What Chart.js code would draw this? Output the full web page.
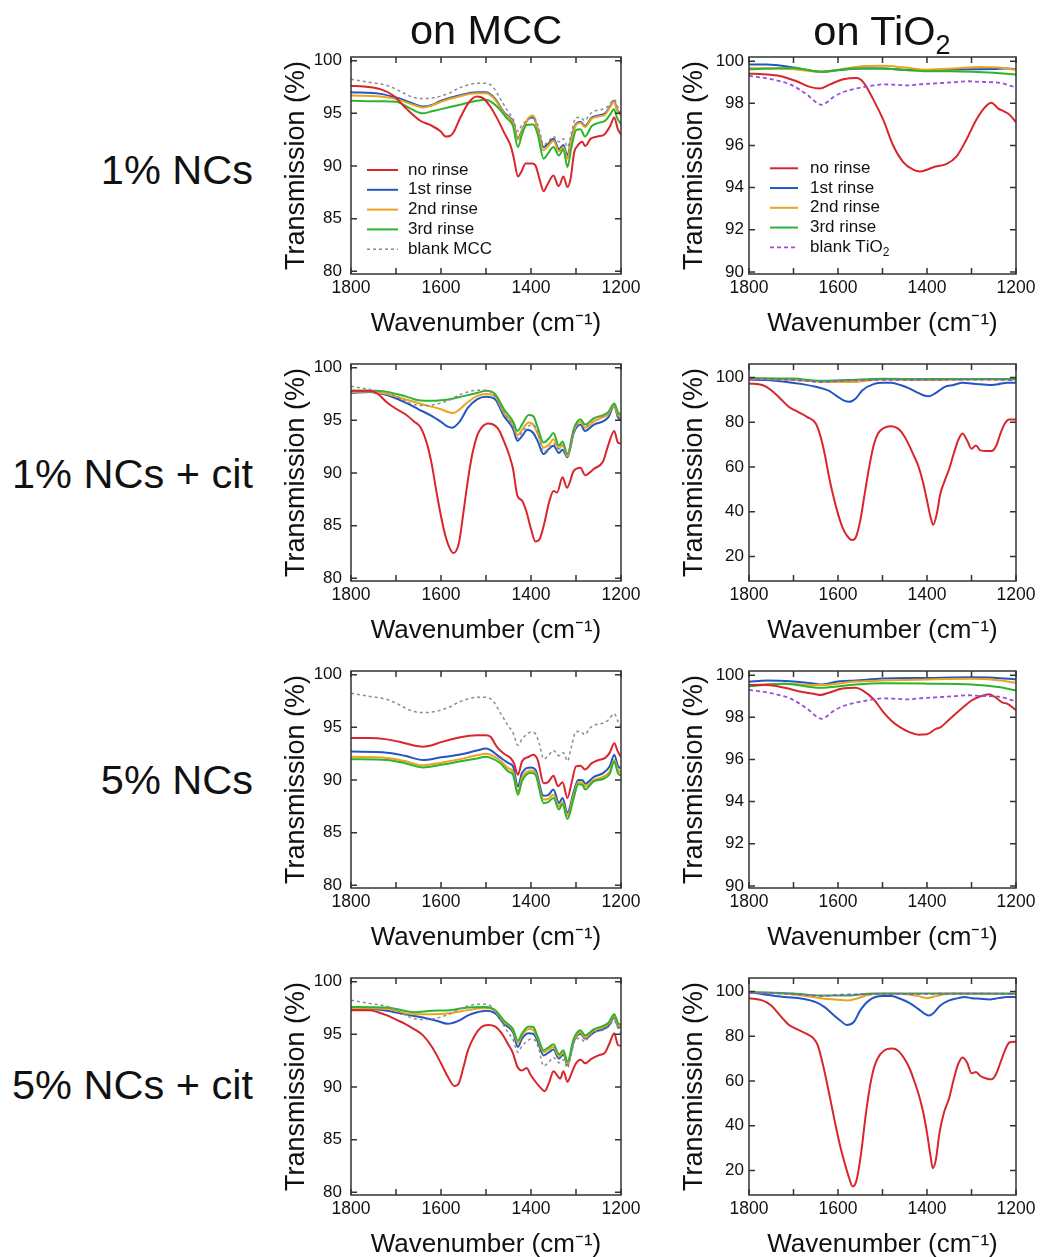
<!DOCTYPE html>
<html>
<head>
<meta charset="utf-8">
<title>FTIR transmission spectra</title>
<script src="https://cdn.jsdelivr.net/npm/chart.js@4.4.1/dist/chart.umd.min.js"></script>
<style>
  html, body { margin: 0; padding: 0; background: #fff; }
  body { position: relative; width: 1040px; height: 1257px; overflow: hidden;
         font-family: "Liberation Sans", Arial, sans-serif; color: #111; }
  canvas { position: absolute; }
  .colTitle { position: absolute; font-size: 41.5px; line-height: 40px; white-space: nowrap; transform: translateX(-50%); z-index: 2; }
  .colTitle sub { font-size: 27px; vertical-align: -9px; line-height: 0; }
  .rowLabel { position: absolute; font-size: 41.5px; line-height: 40px; white-space: nowrap; text-align: right; right: 787px; z-index: 2; }
</style>
</head>
<body>
<div class="colTitle" style="left:486px; top:10px;">on MCC</div>
<div class="colTitle" style="left:882px; top:11px;">on TiO<sub>2</sub></div>
<div class="rowLabel" style="top:150px;">1% NCs</div>
<div class="rowLabel" style="top:454px;">1% NCs + cit</div>
<div class="rowLabel" style="top:760px;">5% NCs</div>
<div class="rowLabel" style="top:1065px;">5% NCs + cit</div>

<canvas id="pA"></canvas><canvas id="pB"></canvas>
<canvas id="pC"></canvas><canvas id="pD"></canvas>
<canvas id="pE"></canvas><canvas id="pF"></canvas>
<canvas id="pG"></canvas><canvas id="pH"></canvas>

<script>
// ---------- axis ticks ----------
const xTicks = [1800, 1700, 1600, 1500, 1400, 1300, 1200];
const xTickLabels = [1800, 1600, 1400, 1200];
const yTicksMCC = [80, 85, 90, 95, 100];
const yTicksFine = [90, 92, 94, 96, 98, 100];
const yTicksCoarse = [20, 40, 60, 80, 100];

const seriesLabelsMCC = ['no rinse', '1st rinse', '2nd rinse', '3rd rinse', 'blank MCC'];
const seriesLabelsTiO2 = ['no rinse', '1st rinse', '2nd rinse', '3rd rinse', 'blank TiO\u2082'];

// ---------- blanks: [wavenumber cm-1, transmission %] ----------
const blankMCC = [[1800,98.25],[1780,98.1],[1760,97.95],[1720,97.65],[1700,97.3],[1680,96.85],[1660,96.5],[1640,96.4],[1620,96.45],[1600,96.65],[1580,96.95],[1560,97.4],[1540,97.7],[1520,97.85],[1500,97.85],[1490,97.7],[1480,97.25],[1470,96.5],[1460,95.8],[1450,95.1],[1440,94.5],[1429,93.3],[1420,93.9],[1410,94.3],[1400,94.55],[1390,94.4],[1382,93.5],[1372,92.0],[1362,92.3],[1350,92.8],[1338,92.3],[1328,92.6],[1319,91.8],[1310,93.2],[1300,94.6],[1290,94.6],[1280,94.3],[1270,94.9],[1260,95.2],[1240,95.4],[1228,95.7],[1215,96.3],[1207,95.6],[1200,95.1]];
const blankTiO2 = [[1800,99.3],[1770,99.22],[1740,99.1],[1710,98.92],[1690,98.7],[1670,98.42],[1655,98.15],[1645,97.98],[1636,97.93],[1625,98.05],[1610,98.3],[1590,98.52],[1570,98.65],[1540,98.78],[1520,98.85],[1500,98.9],[1470,98.88],[1440,98.85],[1420,98.9],[1380,98.95],[1340,99.0],[1310,99.05],[1280,99.02],[1250,99.0],[1230,98.95],[1215,98.85],[1200,98.75]];

// ---------- 1% NCs on MCC ----------
const mcc1NoRinse = [[1800,97.6],[1772,97.55],[1735,97.3],[1706,96.7],[1676,95.4],[1646,94.3],[1624,93.9],[1601,93.3],[1590,92.8],[1580,92.85],[1572,93.2],[1557,94.6],[1538,96.05],[1520,96.6],[1505,96.4],[1490,95.6],[1475,94.5],[1460,93.2],[1445,91.9],[1438,90.7],[1429,89.0],[1422,89.4],[1412,90.25],[1397,90.25],[1390,90.05],[1380,88.6],[1372,87.6],[1364,88.2],[1350,89.1],[1341,88.2],[1338,88.1],[1328,89.0],[1319,88.0],[1312,88.8],[1304,91.3],[1297,91.9],[1286,92.3],[1280,91.9],[1267,92.6],[1252,92.8],[1237,93.0],[1224,93.8],[1215,94.6],[1207,93.5],[1200,93.0]];
const mcc1Rinse1 = [[1800,97.0],[1735,96.85],[1700,96.5],[1660,95.9],[1640,95.65],[1620,95.8],[1600,96.2],[1560,96.7],[1520,97.0],[1500,97.0],[1480,96.4],[1460,95.1],[1440,94.2],[1429,92.6],[1420,93.4],[1405,94.5],[1395,94.6],[1385,93.5],[1372,91.8],[1362,92.1],[1350,92.6],[1338,91.6],[1328,92.0],[1319,91.0],[1310,92.7],[1300,94.0],[1290,94.2],[1280,93.8],[1265,94.6],[1250,94.8],[1235,95.0],[1224,95.7],[1216,96.2],[1208,95.3],[1200,94.9]];
const mcc1Rinse2 = [[1800,96.7],[1735,96.6],[1700,96.35],[1660,95.8],[1640,95.55],[1620,95.75],[1600,96.1],[1560,96.6],[1520,96.9],[1500,96.9],[1480,96.3],[1460,95.0],[1440,94.1],[1429,92.5],[1420,93.3],[1405,94.6],[1395,94.8],[1385,93.5],[1372,91.5],[1362,91.9],[1350,92.4],[1338,91.4],[1328,91.8],[1319,90.7],[1310,92.5],[1300,93.9],[1290,94.1],[1280,93.7],[1265,94.5],[1250,94.7],[1235,94.9],[1224,95.6],[1216,96.1],[1208,95.2],[1200,94.8]];
const mcc1Rinse3 = [[1800,96.2],[1740,96.15],[1700,96.1],[1670,95.5],[1640,95.0],[1620,95.2],[1600,95.4],[1560,95.8],[1520,96.2],[1500,96.3],[1485,96.0],[1470,95.4],[1455,94.6],[1440,93.8],[1429,91.8],[1420,93.0],[1410,93.9],[1395,93.95],[1385,93.0],[1372,90.7],[1362,91.2],[1350,91.8],[1338,91.0],[1328,91.6],[1319,89.9],[1310,91.8],[1300,93.4],[1290,93.5],[1280,92.8],[1265,93.8],[1250,94.1],[1235,94.3],[1224,94.9],[1216,95.4],[1208,94.5],[1200,94.0]];

// ---------- 1% NCs on TiO2 ----------
const tio1NoRinse = [[1800,99.41],[1768,99.38],[1731,99.3],[1693,99.05],[1663,98.78],[1641,98.7],[1618,98.9],[1588,99.14],[1558,99.2],[1543,99.0],[1521,98.2],[1498,97.2],[1476,96.0],[1453,95.2],[1431,94.85],[1416,94.76],[1400,94.85],[1386,94.97],[1356,95.13],[1333,95.5],[1311,96.3],[1288,97.27],[1266,97.9],[1255,98.03],[1240,97.75],[1225,97.6],[1213,97.43],[1200,97.1]];
const tio1Rinse1 = [[1800,99.84],[1760,99.84],[1700,99.7],[1660,99.55],[1640,99.5],[1600,99.57],[1550,99.65],[1500,99.65],[1450,99.6],[1400,99.58],[1350,99.6],[1300,99.62],[1250,99.63],[1220,99.65],[1200,99.62]];
const tio1Rinse2 = [[1800,99.68],[1700,99.62],[1640,99.5],[1600,99.6],[1560,99.73],[1500,99.78],[1450,99.7],[1400,99.6],[1340,99.65],[1280,99.73],[1240,99.7],[1200,99.6]];
const tio1Rinse3 = [[1800,99.62],[1700,99.68],[1640,99.5],[1600,99.58],[1560,99.65],[1500,99.65],[1450,99.58],[1400,99.52],[1350,99.52],[1300,99.5],[1250,99.45],[1200,99.37]];

// ---------- 1% NCs + cit on MCC ----------
const mcc1cNoRinse = [[1800,97.8],[1760,97.8],[1740,97.5],[1720,96.7],[1700,96.1],[1680,95.6],[1660,94.9],[1645,94.3],[1630,92.6],[1620,90.7],[1610,88.2],[1600,85.9],[1590,84.0],[1580,82.8],[1572,82.4],[1560,83.4],[1550,86.3],[1540,89.4],[1530,91.9],[1520,93.5],[1510,94.3],[1495,94.7],[1480,94.5],[1470,94.0],[1460,93.0],[1450,91.9],[1440,90.4],[1430,87.8],[1420,87.4],[1410,86.3],[1400,84.7],[1390,83.5],[1380,83.8],[1370,85.3],[1360,87.2],[1350,88.3],[1342,88.15],[1330,89.6],[1320,88.6],[1305,90.2],[1290,90.5],[1280,89.8],[1260,90.4],[1240,91.1],[1228,92.7],[1215,94.0],[1207,92.9],[1200,92.8]];
const mcc1cRinse1 = [[1800,97.6],[1760,97.7],[1720,97.4],[1680,96.7],[1650,96.05],[1620,95.4],[1600,94.85],[1585,94.4],[1575,94.3],[1560,94.8],[1540,96.2],[1520,97.0],[1500,97.25],[1480,97.0],[1460,95.4],[1440,94.2],[1430,93.05],[1420,93.5],[1408,94.1],[1395,93.8],[1385,93.0],[1372,91.8],[1360,92.3],[1350,92.6],[1338,91.9],[1330,92.2],[1319,91.5],[1305,93.8],[1290,94.6],[1280,94.0],[1260,94.6],[1240,94.9],[1228,95.3],[1215,96.4],[1207,95.3],[1200,95.0]];
const mcc1cRinse2 = [[1800,97.7],[1760,97.75],[1720,97.5],[1680,97.0],[1640,96.5],[1600,96.05],[1585,95.8],[1572,95.7],[1560,96.0],[1540,96.75],[1520,97.3],[1500,97.5],[1480,97.3],[1460,95.7],[1440,94.6],[1430,93.6],[1420,94.1],[1405,94.8],[1395,94.6],[1385,93.7],[1372,92.4],[1360,92.7],[1350,93.2],[1338,92.3],[1330,92.7],[1319,91.6],[1305,94.0],[1290,94.9],[1280,94.3],[1260,94.9],[1240,95.3],[1228,95.6],[1215,96.4],[1207,95.5],[1200,95.3]];
const mcc1cRinse3 = [[1800,97.8],[1760,97.8],[1720,97.7],[1680,97.3],[1650,96.9],[1620,96.85],[1600,96.9],[1575,97.05],[1550,97.3],[1520,97.6],[1500,97.8],[1480,97.5],[1460,96.05],[1440,94.9],[1430,94.0],[1420,94.6],[1405,95.5],[1395,95.4],[1385,94.3],[1372,92.9],[1360,93.3],[1350,93.8],[1338,92.6],[1330,93.0],[1319,91.8],[1305,94.2],[1290,95.1],[1280,94.6],[1260,95.2],[1240,95.5],[1228,95.8],[1215,96.6],[1207,95.8],[1200,95.5]];

// ---------- 1% NCs + cit on TiO2 ----------
const tio1cNoRinse = [[1800,97.3],[1770,96.6],[1750,94.3],[1730,90.6],[1710,86.8],[1690,84.6],[1670,82.4],[1650,79.4],[1640,74.1],[1630,65.9],[1620,55.4],[1610,46.5],[1600,39.0],[1590,33.0],[1580,29.3],[1568,27.3],[1560,28.5],[1550,36.0],[1540,48.0],[1530,59.9],[1520,69.6],[1510,74.9],[1495,77.6],[1480,78.2],[1465,77.1],[1450,73.4],[1440,69.6],[1430,65.2],[1420,60.7],[1410,53.9],[1400,45.0],[1392,37.5],[1386,34.1],[1378,39.0],[1370,48.0],[1360,53.9],[1350,59.2],[1340,65.9],[1330,71.9],[1320,74.9],[1310,71.9],[1300,68.1],[1290,69.6],[1280,67.4],[1265,67.1],[1255,67.1],[1245,69.2],[1235,74.9],[1225,79.4],[1215,81.2],[1200,81.2]];
const tio1cRinse1 = [[1800,99.1],[1760,98.8],[1720,98.1],[1680,97.0],[1650,95.8],[1620,94.0],[1600,91.3],[1585,89.5],[1575,89.1],[1560,90.6],[1545,94.3],[1520,97.0],[1500,97.6],[1480,97.6],[1460,96.6],[1440,95.1],[1420,93.1],[1405,91.8],[1395,91.6],[1380,93.1],[1360,95.8],[1340,96.6],[1320,97.6],[1300,97.3],[1280,96.9],[1260,96.6],[1240,97.0],[1220,97.6],[1200,97.6]];
const tio1cRinse2 = [[1800,99.5],[1700,98.8],[1640,98.1],[1580,97.9],[1520,98.8],[1500,99.1],[1400,98.8],[1300,99.1],[1200,99.1]];
const tio1cRinse3 = [[1800,99.7],[1700,99.5],[1640,98.5],[1580,98.8],[1500,99.4],[1400,99.3],[1300,99.3],[1200,99.3]];

// ---------- 5% NCs on MCC ----------
const mcc5NoRinse = [[1800,94.0],[1760,94.0],[1720,93.86],[1680,93.5],[1650,93.2],[1640,93.17],[1620,93.3],[1600,93.6],[1560,94.04],[1520,94.26],[1500,94.26],[1490,94.1],[1475,93.1],[1460,92.5],[1445,92.07],[1438,91.6],[1429,90.5],[1420,91.76],[1405,92.2],[1395,92.4],[1385,91.9],[1372,89.7],[1362,89.8],[1350,90.4],[1340,89.4],[1330,89.8],[1319,88.3],[1310,89.7],[1300,91.3],[1290,91.35],[1280,91.0],[1265,91.6],[1250,91.9],[1235,92.1],[1225,92.6],[1215,93.5],[1207,92.7],[1200,92.2]];
const mcc5Rinse1 = [[1800,92.7],[1720,92.6],[1680,92.3],[1640,91.9],[1600,92.16],[1560,92.4],[1520,92.8],[1500,93.0],[1490,92.85],[1470,92.2],[1450,91.6],[1440,91.3],[1429,89.4],[1420,90.66],[1400,91.2],[1390,90.97],[1372,88.5],[1362,88.56],[1350,89.1],[1338,87.8],[1330,88.3],[1319,86.9],[1305,88.9],[1295,90.0],[1285,89.97],[1280,89.65],[1260,90.3],[1240,90.66],[1225,91.3],[1215,92.4],[1207,91.35],[1200,91.1]];
const mcc5Rinse2 = [[1800,92.2],[1720,92.1],[1680,91.8],[1640,91.4],[1600,91.65],[1560,91.96],[1520,92.35],[1500,92.5],[1490,92.4],[1470,91.9],[1450,91.1],[1440,90.8],[1429,88.9],[1420,90.2],[1400,90.9],[1390,90.66],[1372,88.15],[1362,88.2],[1350,88.6],[1338,87.5],[1330,87.9],[1319,86.6],[1305,88.6],[1295,89.8],[1285,89.7],[1280,89.4],[1260,90.0],[1240,90.3],[1225,90.8],[1215,91.9],[1207,91.0],[1200,90.66]];
const mcc5Rinse3 = [[1800,91.97],[1720,91.9],[1680,91.6],[1640,91.2],[1600,91.45],[1560,91.75],[1520,92.05],[1500,92.2],[1490,92.1],[1470,91.66],[1450,90.8],[1440,90.5],[1429,88.6],[1420,89.9],[1400,90.7],[1390,90.5],[1372,87.8],[1362,87.9],[1350,88.3],[1338,87.2],[1330,87.7],[1319,86.3],[1305,88.3],[1295,89.6],[1285,89.5],[1280,89.1],[1260,89.9],[1240,90.1],[1225,90.6],[1215,91.75],[1207,90.66],[1200,90.4]];

// ---------- 5% NCs on TiO2 ----------
const tio5NoRinse = [[1800,99.53],[1760,99.53],[1720,99.4],[1680,99.2],[1650,99.1],[1640,99.06],[1620,99.17],[1590,99.37],[1560,99.4],[1545,99.28],[1520,98.86],[1500,98.3],[1480,97.84],[1460,97.52],[1440,97.3],[1420,97.18],[1400,97.2],[1380,97.45],[1370,97.52],[1350,97.9],[1320,98.46],[1300,98.8],[1280,99.0],[1260,99.1],[1245,98.93],[1230,98.7],[1220,98.65],[1200,98.34]];
const tio5Rinse1 = [[1800,99.69],[1760,99.75],[1700,99.7],[1660,99.62],[1640,99.56],[1600,99.7],[1560,99.75],[1500,99.84],[1400,99.87],[1300,99.9],[1250,99.88],[1200,99.8]];
const tio5Rinse2 = [[1800,99.53],[1720,99.6],[1640,99.53],[1560,99.7],[1500,99.75],[1400,99.8],[1300,99.83],[1240,99.76],[1200,99.64]];
const tio5Rinse3 = [[1800,99.48],[1720,99.6],[1640,99.4],[1560,99.56],[1500,99.62],[1400,99.6],[1300,99.56],[1240,99.44],[1200,99.28]];

// ---------- 5% NCs + cit on MCC ----------
const mcc5cNoRinse = [[1800,97.3],[1760,97.3],[1740,97.1],[1720,96.8],[1700,96.4],[1680,96.0],[1660,95.5],[1640,94.9],[1620,93.8],[1600,92.25],[1585,91.0],[1570,90.1],[1560,90.4],[1550,91.9],[1540,93.5],[1525,94.9],[1510,95.7],[1495,95.9],[1480,95.75],[1465,95.1],[1450,94.0],[1440,93.2],[1430,91.9],[1420,91.56],[1410,91.8],[1400,91.1],[1390,90.5],[1378,89.9],[1370,89.6],[1360,90.4],[1350,91.5],[1340,91.0],[1335,90.8],[1328,91.5],[1319,90.5],[1310,91.3],[1300,92.25],[1290,92.6],[1280,92.25],[1265,92.7],[1250,93.0],[1235,93.3],[1225,94.2],[1215,95.1],[1207,94.0],[1200,93.9]];
const mcc5cRinse1 = [[1800,97.35],[1760,97.4],[1720,97.25],[1680,96.9],[1640,96.6],[1610,96.3],[1585,96.0],[1560,96.3],[1540,96.8],[1520,97.1],[1500,97.25],[1480,97.0],[1460,96.0],[1440,95.2],[1429,93.8],[1420,94.6],[1405,95.1],[1395,95.06],[1385,94.3],[1372,93.0],[1360,93.3],[1350,93.56],[1338,92.7],[1328,93.1],[1319,92.1],[1305,94.3],[1290,95.06],[1280,94.6],[1260,95.2],[1240,95.5],[1228,95.8],[1215,96.6],[1207,95.8],[1200,95.6]];
const mcc5cRinse2 = [[1800,97.5],[1720,97.4],[1660,96.9],[1620,96.9],[1580,97.0],[1540,97.3],[1500,97.5],[1480,97.25],[1460,96.2],[1440,95.4],[1429,94.2],[1420,94.9],[1405,95.5],[1395,95.4],[1385,94.6],[1372,93.3],[1360,93.6],[1350,93.8],[1338,92.9],[1328,93.3],[1319,92.2],[1305,94.4],[1290,95.2],[1280,94.7],[1260,95.4],[1240,95.7],[1228,96.0],[1215,96.75],[1207,95.94],[1200,95.7]];
const mcc5cRinse3 = [[1800,97.6],[1720,97.56],[1660,97.1],[1620,97.25],[1580,97.3],[1540,97.56],[1500,97.6],[1480,97.3],[1460,96.3],[1440,95.5],[1429,94.4],[1420,95.1],[1405,95.75],[1395,95.7],[1385,94.75],[1372,93.5],[1360,93.8],[1350,94.06],[1338,93.1],[1328,93.5],[1319,92.4],[1305,94.6],[1290,95.4],[1280,94.9],[1260,95.5],[1240,95.8],[1228,96.1],[1215,96.9],[1207,96.1],[1200,95.9]];

// ---------- 5% NCs + cit on TiO2 ----------
const tio5cNoRinse = [[1800,97.0],[1770,96.0],[1750,93.7],[1730,89.2],[1710,85.0],[1690,82.9],[1670,81.0],[1655,79.0],[1645,75.7],[1635,68.2],[1625,59.3],[1615,49.5],[1605,39.8],[1595,30.8],[1585,23.3],[1575,16.6],[1567,12.8],[1558,15.8],[1548,27.8],[1538,44.3],[1528,57.8],[1518,66.7],[1505,72.0],[1490,74.2],[1478,74.5],[1465,73.5],[1450,69.7],[1440,66.0],[1430,60.7],[1420,54.8],[1410,47.3],[1400,36.8],[1392,26.3],[1387,21.0],[1380,24.8],[1372,36.8],[1362,45.8],[1350,52.5],[1340,60.7],[1330,67.5],[1320,70.5],[1310,68.2],[1300,63.4],[1290,64.0],[1280,62.2],[1265,61.0],[1255,60.7],[1245,63.0],[1235,68.2],[1225,73.5],[1215,77.2],[1200,77.5]];
const tio5cRinse1 = [[1800,99.7],[1760,98.5],[1720,97.5],[1680,96.7],[1650,95.2],[1630,93.0],[1610,89.5],[1595,87.0],[1580,85.0],[1565,86.2],[1550,91.5],[1530,96.0],[1500,97.9],[1480,97.9],[1460,96.7],[1440,94.9],[1420,92.2],[1405,90.0],[1395,89.2],[1385,90.4],[1370,93.7],[1350,96.0],[1330,97.0],[1315,97.5],[1300,97.0],[1280,96.7],[1260,96.4],[1240,97.0],[1220,97.5],[1200,97.5]];
const tio5cRinse2 = [[1800,99.7],[1720,99.0],[1680,98.2],[1640,97.0],[1600,96.25],[1580,95.95],[1560,96.7],[1530,98.5],[1500,99.0],[1460,99.0],[1420,97.9],[1400,97.0],[1380,97.9],[1350,99.0],[1300,99.0],[1200,98.8]];
const tio5cRinse3 = [[1800,99.7],[1700,99.1],[1640,98.2],[1580,98.2],[1520,99.1],[1400,99.1],[1300,99.1],[1200,99.1]];

// ---------- page layout ----------
const FRAME_TOPS = [57, 364, 671, 978];
const FRAME_H = 217;
const FRAME_COLS = [{ left: 351, width: 270 }, { left: 749, width: 267 }];
const Y_AXIS_W = 82, X_AXIS_H = 66, PAD_TOP = 24, PAD_RIGHT = 32;
const FONT = '"Liberation Sans", Arial, Helvetica, sans-serif';

const SCALES = {
  mcc:    { min: 79.75, max: 100.35, ticks: yTicksMCC },
  fine:   { min: 89.9,  max: 100.2,  ticks: yTicksFine },
  coarse: { min: 9,     max: 106,    ticks: yTicksCoarse }
};

const STYLES = [
  { color: '#d8262c', width: 2.0, dash: [] },      // no rinse
  { color: '#2355c4', width: 2.0, dash: [] },      // 1st rinse
  { color: '#eaa41d', width: 2.0, dash: [] },      // 2nd rinse
  { color: '#2db42d', width: 2.0, dash: [] },      // 3rd rinse
];
const BLANK_STYLE = {
  MCC:  { color: '#8c8c8c', width: 1.5, dash: [3, 3] },
  TiO2: { color: '#9550dc', width: 1.8, dash: [4, 3] }
};
// draw order: blank on top, then red, green, orange, blue
const DRAW_ORDER = [1, 4, 3, 2, 0];

const panels = [
  { id: 'pA', row: 0, col: 0, sub: 'MCC',  scale: 'mcc',    series: [mcc1NoRinse, mcc1Rinse1, mcc1Rinse2, mcc1Rinse3, blankMCC],
    legend: { left: 16, top: 113, gap: 19.8, len: 31, textGap: 10 } },
  { id: 'pB', row: 0, col: 1, sub: 'TiO2', scale: 'fine',   series: [tio1NoRinse, tio1Rinse1, tio1Rinse2, tio1Rinse3, blankTiO2],
    legend: { left: 21, top: 111.3, gap: 19.75, len: 28, textGap: 12 } },
  { id: 'pC', row: 1, col: 0, sub: 'MCC',  scale: 'mcc',    series: [mcc1cNoRinse, mcc1cRinse1, mcc1cRinse2, mcc1cRinse3, blankMCC] },
  { id: 'pD', row: 1, col: 1, sub: 'TiO2', scale: 'coarse', series: [tio1cNoRinse, tio1cRinse1, tio1cRinse2, tio1cRinse3, blankTiO2] },
  { id: 'pE', row: 2, col: 0, sub: 'MCC',  scale: 'mcc',    series: [mcc5NoRinse, mcc5Rinse1, mcc5Rinse2, mcc5Rinse3, blankMCC] },
  { id: 'pF', row: 2, col: 1, sub: 'TiO2', scale: 'fine',   series: [tio5NoRinse, tio5Rinse1, tio5Rinse2, tio5Rinse3, blankTiO2] },
  { id: 'pG', row: 3, col: 0, sub: 'MCC',  scale: 'mcc',    series: [mcc5cNoRinse, mcc5cRinse1, mcc5cRinse2, mcc5cRinse3, blankMCC] },
  { id: 'pH', row: 3, col: 1, sub: 'TiO2', scale: 'coarse', series: [tio5cNoRinse, tio5cRinse1, tio5cRinse2, tio5cRinse3, blankTiO2] }
];

// ---------- plugins ----------
// Boxed frame with inward tick marks on all four sides
const frameTicks = {
  id: 'frameTicks',
  afterDatasetsDraw(chart) {
    const { ctx, chartArea: a, scales: { x, y } } = chart;
    const L = 6;
    ctx.save();
    ctx.strokeStyle = '#333';
    ctx.lineWidth = 1.5;
    ctx.beginPath();
    x.ticks.forEach(t => {
      const px = x.getPixelForValue(t.value);
      ctx.moveTo(px, a.bottom); ctx.lineTo(px, a.bottom - L);
      ctx.moveTo(px, a.top);    ctx.lineTo(px, a.top + L);
    });
    y.ticks.forEach(t => {
      const py = y.getPixelForValue(t.value);
      ctx.moveTo(a.left, py);  ctx.lineTo(a.left + L, py);
      ctx.moveTo(a.right, py); ctx.lineTo(a.right - L, py);
    });
    ctx.stroke();
    ctx.strokeRect(a.left, a.top, a.right - a.left, a.bottom - a.top);
    ctx.restore();
  }
};

// Writes a label, setting subscript digits (U+2080..2089) smaller and lower
function drawRichText(ctx, text, x, y, size) {
  let cx = x;
  for (const ch of text) {
    const code = ch.codePointAt(0);
    if (code >= 0x2080 && code <= 0x2089) {
      ctx.font = Math.round(size * 0.68) + 'px ' + FONT;
      const d = String(code - 0x2080);
      ctx.fillText(d, cx, y + size * 0.3);
      cx += ctx.measureText(d).width;
    } else {
      ctx.font = size + 'px ' + FONT;
      ctx.fillText(ch, cx, y);
      cx += ctx.measureText(ch).width;
    }
  }
}

// Legend drawn inside the plot area
const insetLegend = {
  id: 'insetLegend',
  afterDraw(chart, args, opts) {
    if (!opts || !opts.show) return;
    const { ctx, chartArea: a } = chart;
    ctx.save();
    ctx.textBaseline = 'middle';
    ctx.textAlign = 'left';
    ctx.fillStyle = '#111';
    chart.data.datasets.forEach((ds, i) => {
      const y = a.top + opts.top + i * opts.gap;
      const x0 = a.left + opts.left;
      ctx.strokeStyle = ds.borderColor;
      ctx.lineWidth = ds.borderWidth;
      ctx.setLineDash(ds.borderDash || []);
      ctx.beginPath();
      ctx.moveTo(x0, y);
      ctx.lineTo(x0 + opts.len, y);
      ctx.stroke();
      ctx.setLineDash([]);
      drawRichText(ctx, ds.label, x0 + opts.len + opts.textGap, y, 17);
    });
    ctx.restore();
  }
};

Chart.defaults.font.family = FONT;
Chart.defaults.color = '#111';

const toPoints = pairs => pairs.map(([x, y]) => ({ x, y }));

panels.forEach(p => {
  const col = FRAME_COLS[p.col];
  const frameTop = FRAME_TOPS[p.row];
  const canvas = document.getElementById(p.id);
  const w = Y_AXIS_W + col.width + PAD_RIGHT;
  const h = PAD_TOP + FRAME_H + X_AXIS_H;
  canvas.width = w; canvas.height = h;
  canvas.style.width = w + 'px'; canvas.style.height = h + 'px';
  canvas.style.left = (col.left - Y_AXIS_W) + 'px';
  canvas.style.top = (frameTop - PAD_TOP) + 'px';

  const labels = p.sub === 'MCC' ? seriesLabelsMCC : seriesLabelsTiO2;
  const datasets = p.series.map((s, i) => {
    const st = i < 4 ? STYLES[i] : BLANK_STYLE[p.sub];
    return {
      label: labels[i],
      data: toPoints(s),
      borderColor: st.color,
      backgroundColor: st.color,
      borderWidth: st.width,
      borderDash: st.dash,
      pointRadius: 0,
      fill: false,
      cubicInterpolationMode: 'monotone',
      order: DRAW_ORDER[i]
    };
  });

  const ys = SCALES[p.scale];
  const yLabelPad = p.sub === 'MCC' ? 9 : 5;

  new Chart(canvas, {
    type: 'line',
    data: { datasets },
    plugins: [frameTicks, insetLegend],
    options: {
      responsive: false,
      animation: false,
      events: [],
      layout: { padding: { top: PAD_TOP, right: PAD_RIGHT, left: 0, bottom: 0 } },
      plugins: {
        legend: { display: false },
        tooltip: { enabled: false },
        insetLegend: p.legend ? Object.assign({ show: true }, p.legend) : { show: false }
      },
      scales: {
        x: {
          type: 'linear',
          reverse: true,
          min: 1200, max: 1800,
          grid: { display: false, drawTicks: false },
          border: { display: false },
          afterBuildTicks: s => { s.ticks = xTicks.map(v => ({ value: v })); },
          afterFit: s => { s.height = X_AXIS_H; },
          ticks: {
            maxRotation: 0, autoSkip: false, padding: 4,
            font: { size: 17.5 }, color: '#111',
            callback: v => xTickLabels.includes(v) ? String(v) : ''
          },
          title: {
            display: true, text: 'Wavenumber (cm\u207B\u00B9)',
            font: { size: 26 }, color: '#111',
            padding: { top: 0, bottom: 0.5 }
          }
        },
        y: {
          type: 'linear',
          min: ys.min, max: ys.max,
          grid: { display: false, drawTicks: false },
          border: { display: false },
          afterBuildTicks: s => { s.ticks = ys.ticks.map(v => ({ value: v })); },
          afterFit: s => { s.width = Y_AXIS_W; },
          ticks: {
            autoSkip: false, padding: yLabelPad,
            font: { size: 17 }, color: '#111',
            callback: v => String(v)
          },
          title: {
            display: true, text: 'Transmission (%)',
            font: { size: 27 }, color: '#111',
            padding: { top: 11, bottom: 0 }
          }
        }
      }
    }
  });
});
</script>
</body>
</html>
